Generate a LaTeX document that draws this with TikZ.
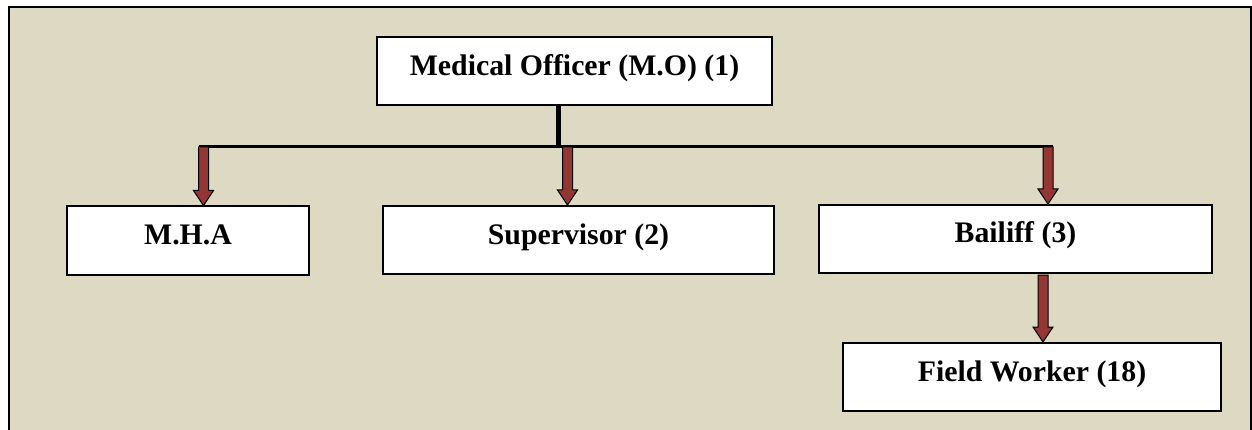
\documentclass[tikz,border=0pt]{standalone}
\usepackage{fontspec}
\setmainfont{Liberation Serif}
\usetikzlibrary{calc}
\definecolor{panelbg}{HTML}{DDD9C3}
\definecolor{arrowred}{HTML}{943634}
\tikzset{
  orgbox/.style={draw=black, line width=2pt, fill=white, inner sep=0pt,
    minimum height=68pt, text height=20pt, text depth=12pt,
    font=\fontsize{29.8}{32}\selectfont\bfseries},
  busline/.style={draw=black, line width=3pt},
  stemline/.style={draw=black, line width=5pt},
  blockarrow/.style={fill=arrowred, draw=black, line width=1pt, line join=miter,
    to path={let \p1=(\tikztostart), \p2=(\tikztotarget) in
      (\x1-5pt,\y1) -- (\x1+5pt,\y1) -- (\x1+5pt,\y2+15pt)
      -- (\x1+10pt,\y2+15pt) -- (\x1,\y2) -- (\x1-10pt,\y2+15pt)
      -- (\x1-5pt,\y2+15pt) -- cycle}}
}
\begin{document}
\begin{tikzpicture}[x=1pt, y=-1pt]
  \useasboundingbox (0,0) rectangle (1252,430);
  \clip (0,0) rectangle (1252,430);
  \fill[white] (0,0) rectangle (1252,430);
  % framed panel
  \draw[fill=panelbg, line width=2pt] (9,7) rectangle (1250.5,460);

  % boxes of the chart
  \node[orgbox, minimum width=395pt] (mo)    at (574.5,71.5) {Medical Officer (M.O) (1)};
  \node[orgbox, minimum width=242pt] (mha)   at (188,240.5)  {M.H.A};
  \node[orgbox, minimum width=391pt] (sup)   at (578.5,240)  {Supervisor (2)};
  \node[orgbox, minimum width=393pt] (bail)  at (1015.5,239) {Bailiff (3)};
  \node[orgbox, minimum width=378pt] (field) at (1032,377)   {Field Worker (18)};

  % distribution bus under the medical officer
  \coordinate (busL) at (199,147);
  \coordinate (busR) at (1053,147);
  \coordinate (stem) at (558,147);
  \coordinate (a1) at (203.5,147);
  \coordinate (a2) at (567.5,147);
  \coordinate (a3) at (1048,147);
  \coordinate (a4) at (1043,275);

  \draw[stemline] (mo.south -| stem) -- (stem);
  \draw[busline] (busL) -- (busR);

  % block arrows to the subordinate boxes
  \draw[blockarrow] (a1) to (mha.north -| a1);
  \draw[blockarrow] (a2) to (sup.north -| a2);
  \draw[blockarrow] (a3) to (bail.north -| a3);
  \draw[blockarrow] (a4) to (field.north -| a4);
\end{tikzpicture}
\end{document}
